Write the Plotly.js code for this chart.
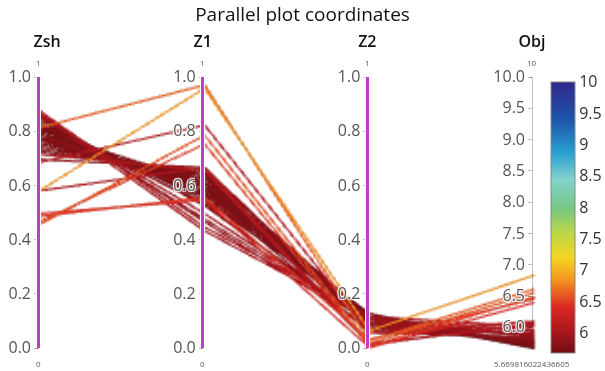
<!DOCTYPE html>
<html>
<head>
<meta charset="utf-8">
<script src="https://cdn.plot.ly/plotly-3.0.1.min.js"></script>
<style>
html,body{margin:0;padding:0;background:#fff;}
#chart{width:605px;height:371px;}
#chart .highlight{stroke:rgb(190,60,200) !important;}
</style>
</head>
<body>
<div id="chart"></div>
<script>
var dimLabels = ["Zsh", "Z1", "Z2", "Obj"];

var unitTickVals = [0, 0.2, 0.4, 0.6, 0.8, 1.0];
var unitTickText = ["0.0", "0.2", "0.4", "0.6", "0.8", "1.0"];
var objTickVals = [6.0, 6.5, 7.0, 7.5, 8.0, 8.5, 9.0, 9.5, 10.0];
var objTickText = ["6.0", "6.5", "7.0", "7.5", "8.0", "8.5", "9.0", "9.5", "10.0"];
var cbTickVals = [6, 6.5, 7, 7.5, 8, 8.5, 9, 9.5, 10];
var cbTickText = ["6", "6.5", "7", "7.5", "8", "8.5", "9", "9.5", "10"];

var zsh = [0.84,0.83,0.82,0.82,0.81,0.81,0.80,0.80,0.79,0.79,0.78,0.78,0.77,0.77,0.76,0.76,0.75,0.74,0.73,0.72,
           0.83,0.85,0.80,0.79,0.81,0.78,0.70,0.86,0.87,
           0.585,0.818,0.46,0.47,0.49,0.50,0.69,0.585,0.88,0.87,0.86,0.72];
var z1  = [0.55,0.56,0.57,0.58,0.58,0.59,0.59,0.60,0.60,0.61,0.61,0.62,0.62,0.63,0.63,0.64,0.64,0.65,0.65,0.66,
           0.54,0.53,0.57,0.58,0.61,0.59,0.67,0.48,0.47,
           0.963,0.975,0.79,0.757,0.56,0.55,0.827,0.67,0.45,0.436,0.50,0.66];
var z2  = [0.12,0.11,0.12,0.10,0.11,0.09,0.12,0.10,0.11,0.08,0.12,0.10,0.11,0.09,0.12,0.10,0.11,0.08,0.12,0.10,
           0.07,0.09,0.13,0.06,0.11,0.13,0.09,0.10,0.08,
           0.067,0.03,0.02,0.01,0.035,0.005,0.06,0.02,0.12,0.11,0.10,0.015];
var obj = [5.70,5.72,5.68,5.74,5.71,5.76,5.69,5.73,5.70,5.78,5.72,5.75,5.71,5.80,5.74,5.77,5.73,5.82,5.76,5.79,
           5.84,5.81,5.68,5.86,5.75,5.70,5.88,5.90,5.92,
           6.85,6.63,6.57,6.50,6.47,6.41,6.11,6.06,6.02,5.98,5.95,6.09];

var unitRange = [0, 1];
var objMin = 5.669816022436605;
var objMax = 10;
var dimRanges = [unitRange, unitRange, unitRange, [objMin, objMax]];

var colorScale = [
  [0.00, 'rgb(110,15,20)'],
  [0.07, 'rgb(165,20,28)'],
  [0.17, 'rgb(220,40,35)'],
  [0.27, 'rgb(244,150,32)'],
  [0.35, 'rgb(245,212,35)'],
  [0.44, 'rgb(190,215,70)'],
  [0.53, 'rgb(120,200,130)'],
  [0.64, 'rgb(130,210,205)'],
  [0.74, 'rgb(40,160,210)'],
  [0.86, 'rgb(30,85,170)'],
  [1.00, 'rgb(50,40,140)']
];

var trace = {
  type: 'parcoords',
  domain: {x: [0, 1], y: [0, 1]},
  line: {
    color: obj,
    colorscale: colorScale,
    cmin: objMin,
    cmax: objMax,
    showscale: true,
    colorbar: {
      x: 1.0385, xanchor: 'left', xpad: 0,
      y: 0.975, yanchor: 'top', ypad: 0,
      len: 271, lenmode: 'pixels',
      thickness: 24,
      tickvals: cbTickVals,
      ticktext: cbTickText,
      ticks: '',
      outlinewidth: 1,
      outlinecolor: '#888',
      tickfont: {family: 'Open Sans', size: 16, color: '#333'}
    }
  },
  labelfont: {family: 'Open Sans', size: 16, color: '#111', weight: 600},
  tickfont: {family: 'Open Sans', size: 16, color: '#555'},
  dimensions: [
    {label: dimLabels[0], values: zsh, range: dimRanges[0], constraintrange: unitRange, tickvals: unitTickVals, ticktext: unitTickText},
    {label: dimLabels[1], values: z1, range: dimRanges[1], constraintrange: unitRange, tickvals: unitTickVals, ticktext: unitTickText},
    {label: dimLabels[2], values: z2, range: dimRanges[2], constraintrange: unitRange, tickvals: unitTickVals, ticktext: unitTickText},
    {label: dimLabels[3], values: obj, range: dimRanges[3], tickvals: objTickVals, ticktext: objTickText}
  ]
};

// range (extent) labels above and below each axis
var annotations = [];
for (var i = 0; i < dimRanges.length; i++) {
  var xp = i / (dimRanges.length - 1);
  annotations.push({xref: 'paper', yref: 'paper', x: xp, y: 1, yshift: 13, text: String(dimRanges[i][1]),
    showarrow: false, xanchor: 'center', yanchor: 'middle', font: {family: 'Open Sans', size: 8, color: '#555'}});
  annotations.push({xref: 'paper', yref: 'paper', x: xp, y: 0, yshift: -13, text: String(dimRanges[i][0]),
    showarrow: false, xanchor: 'center', yanchor: 'middle', font: {family: 'Open Sans', size: 8, color: '#555'}});
}

var layout = {
  width: 605, height: 371,
  margin: {l: 38, r: 73, t: 75, b: 21, autoexpand: false},
  paper_bgcolor: '#fff',
  font: {family: 'Open Sans', color: '#444'},
  annotations: annotations,
  title: {text: 'Parallel plot coordinates', x: 0.5, xanchor: 'center', y: 0.96, yanchor: 'middle', yref: 'container',
          font: {family: 'Open Sans', size: 19, color: '#111'}}
};

Plotly.newPlot('chart', [trace], layout, {displayModeBar: false, plotGlPixelRatio: 0.55}).then(function () {
  var titles = document.querySelectorAll('#chart .axis-title');
  for (var k = 0; k < titles.length; k++) {
    if (titles[k].textContent === dimLabels[0]) titles[k].setAttribute('dx', '9');
  }
});
</script>
</body>
</html>
